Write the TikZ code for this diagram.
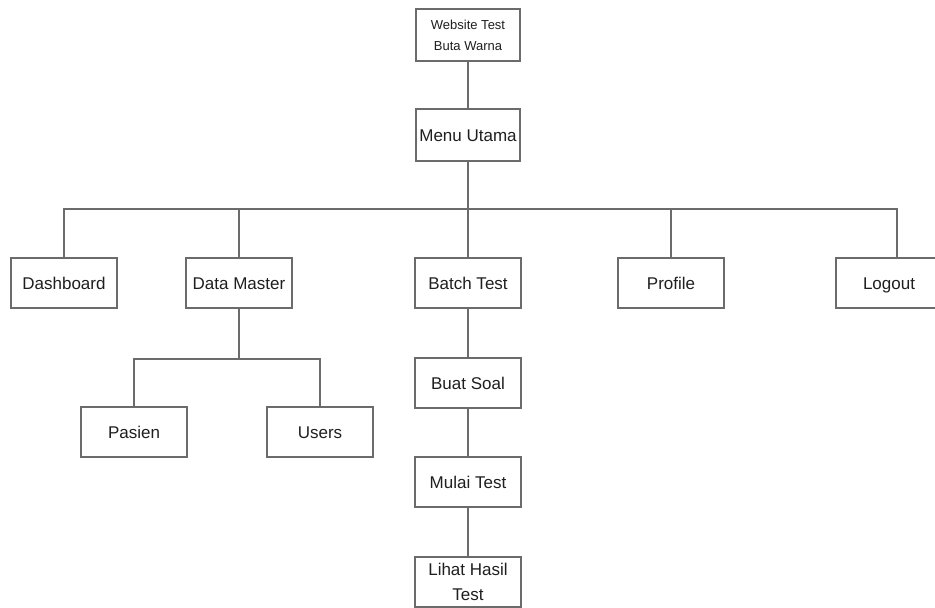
\documentclass[tikz,border=0pt]{standalone}
\usepackage{fontspec}
\setmainfont{Liberation Sans}
\begin{document}
\begin{tikzpicture}[x=1pt,y=-1pt,
  box/.style={draw=black!58, line width=1.3pt, fill=white, text=black!88,
    minimum width=106pt, minimum height=50pt, inner sep=0pt, align=center,
    font=\fontsize{17}{25}\selectfont},
  onebox/.style={box, text height=15pt, text depth=3pt},
  link/.style={draw=black!58, line width=1.3pt}]
\useasboundingbox[fill=white] (0,0) rectangle (935,608);

% root and main menu
\node[box, minimum width=104pt, minimum height=52pt, font=\fontsize{13}{21}\selectfont]
  (web) at (468,35) {Website Test\\Buta Warna};
\node[onebox, minimum width=104pt, minimum height=52pt] (menu) at (468,135) {Menu Utama};

% first level
\node[onebox] (dash) at (64,283) {Dashboard};
\node[onebox] (dm) at (239,283) {Data Master};
\node[onebox] (batch) at (468,283) {Batch Test};
\node[onebox] (prof) at (671,283) {Profile};
\node[onebox] (lo) at (889,283) {Logout};

% data master children
\node[onebox] (pas) at (134,432) {Pasien};
\node[onebox] (usr) at (320,432) {Users};

% batch test chain
\node[onebox] (buat) at (468,383) {Buat Soal};
\node[onebox] (mulai) at (468,482) {Mulai Test};
\node[box] (lihat) at (468,582) {Lihat Hasil\\Test};

\coordinate (bus) at (0,209);
\coordinate (subbus) at (0,359);

% connectors
\draw[link] (web) -- (menu);
\draw[link] (menu) -- (batch);
\draw[link] (dash.north) |- (bus -| lo.north) -- ++(8,0) -- ([xshift=8pt]lo.north);
\draw[link] (dm.north) -- (dm.north |- bus);
\draw[link] (prof.north) -- (prof.north |- bus);
\draw[link] (dm.south) -- (dm.south |- subbus);
\draw[link] (pas.north) |- (subbus -| usr.north) -- (usr.north);
\draw[link] (batch) -- (buat);
\draw[link] (buat) -- (mulai);
\draw[link] (mulai) -- (lihat);
\end{tikzpicture}
\end{document}
